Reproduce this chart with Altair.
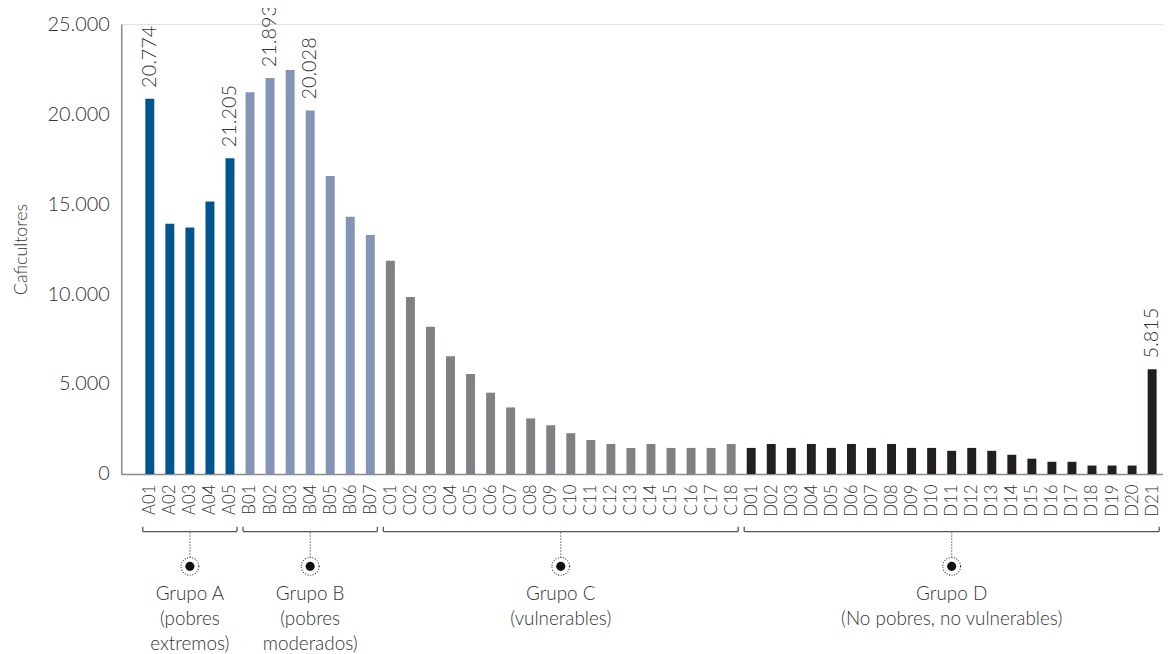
import altair as alt
import pandas as pd

# ---------------- data ----------------
categories = (
    [f"A{i:02d}" for i in range(1, 6)]
    + [f"B{i:02d}" for i in range(1, 8)]
    + [f"C{i:02d}" for i in range(1, 19)]
    + [f"D{i:02d}" for i in range(1, 22)]
)
values_a = [20850, 13900, 13700, 15150, 17550]
values_b = [21210, 22000, 22450, 20200, 16560, 14300, 13280]
values_c = [11850, 9830, 8190, 6540, 5560, 4520, 3700, 3090, 2710, 2270,
            1890, 1670, 1450, 1670, 1450, 1450, 1450, 1670]
values_d = [1450, 1670, 1450, 1670, 1450, 1670, 1450, 1670, 1450, 1450,
            1290, 1450, 1290, 1070, 850, 680, 680, 470, 470, 470, 5815]
values = values_a + values_b + values_c + values_d
groups = ["A"] * 5 + ["B"] * 7 + ["C"] * 18 + ["D"] * 21

label_cats = ["A01", "A05", "B02", "B04", "D21"]
label_texts = ["20.774", "21.205", "21.893", "20.028", "5.815"]

group_names = ["A", "B", "C", "D"]
group_first = ["A01", "B01", "C01", "D01"]
group_last = ["A05", "B07", "C18", "D21"]
group_texts = [
    "Grupo A\n(pobres\nextremos)",
    "Grupo B\n(pobres\nmoderados)",
    "Grupo C\n(vulnerables)",
    "Grupo D\n(No pobres, no vulnerables)",
]
group_colors = ["#00558C", "#8394B6", "#808184", "#231F20"]

y_ticks = [0, 5000, 10000, 15000, 20000, 25000]

# ---------------- tables ----------------
idx_of = {c: i for i, c in enumerate(categories)}
df = pd.DataFrame({"cat": categories, "idx": list(range(len(categories))),
                   "value": values, "group": groups})

df_lab = pd.DataFrame({
    "idx": [idx_of[c] for c in label_cats],
    "value": [values[idx_of[c]] for c in label_cats],
    "text": label_texts,
})

first_i = [idx_of[c] for c in group_first]
last_i = [idx_of[c] for c in group_last]
df_grp = pd.DataFrame({
    "group": group_names,
    "x0": [f - 0.35 for f in first_i],
    "x1": [l + 0.35 for l in last_i],
    "xc": [(f + l) / 2 for f, l in zip(first_i, last_i)],
    "text": group_texts,
})

FONT = "Lato"
W = 300
TXT = "#333333"
AX = "#8a8a8a"

label_array = "[" + ",".join(f"'{c}'" for c in categories) + "]"

xscale = alt.Scale(domain=[-1.178, 50.294], nice=False, zero=False)

x_axis = alt.Axis(values=list(range(len(categories))),
                  labelExpr=f"{label_array}[datum.value]",
                  labelAngle=-90, labelFontSize=17, labelColor=TXT,
                  labelFont=FONT, labelFontWeight=W, labelPadding=10,
                  ticks=False, grid=False, labelOverlap=False,
                  labelFlush=False, domainColor=AX, domainWidth=1.5,
                  title=None, labelBound=False)

bars = alt.Chart(df).mark_bar(size=9).encode(
    x=alt.X("idx:Q", scale=xscale, axis=x_axis),
    y=alt.Y("value:Q", scale=alt.Scale(domain=[0, 25000], nice=False),
            axis=alt.Axis(values=y_ticks,
                          labelExpr="replace(format(datum.value, ','), ',', '.')",
                          labelFontSize=20, labelColor=TXT, labelFont=FONT,
                          labelFontWeight=W, labelPadding=12, ticks=False,
                          grid=False, domainColor=AX, domainWidth=1.5,
                          title="Caficultores", titleFont=FONT,
                          titleFontSize=18, titleFontWeight=W,
                          titleColor=TXT, titlePadding=17)),
    color=alt.Color("group:N", scale=alt.Scale(domain=group_names, range=group_colors),
                    legend=None),
)

labels = alt.Chart(df_lab).mark_text(
    angle=270, align="left", baseline="middle", dx=11, fontSize=20,
    font=FONT, fontWeight=W, color=TXT,
).encode(x=alt.X("idx:Q", axis=x_axis), y=alt.Y("value:Q"), text="text:N")

rule_style = dict(color="#555", strokeWidth=1.3)
bracket = alt.Chart(df_grp).mark_rule(**rule_style).encode(
    x=alt.X("x0:Q", axis=x_axis), x2="x1:Q", y=alt.value(511))
tick_l = alt.Chart(df_grp).mark_rule(**rule_style).encode(
    x=alt.X("x0:Q", axis=x_axis), y=alt.value(506), y2=alt.value(511))
tick_r = alt.Chart(df_grp).mark_rule(**rule_style).encode(
    x=alt.X("x1:Q", axis=x_axis), y=alt.value(506), y2=alt.value(511))
dots_line = alt.Chart(df_grp).mark_rule(color="#333", strokeWidth=1.2,
                                        strokeDash=[1, 2]).encode(
    x=alt.X("xc:Q", axis=x_axis), y=alt.value(512), y2=alt.value(537))
ring = alt.Chart(df_grp).mark_point(shape="circle", size=320, filled=False,
                                    stroke="#333", strokeWidth=1.1,
                                    strokeDash=[1, 1.6], opacity=1).encode(
    x=alt.X("xc:Q", axis=x_axis), y=alt.value(546))
dot = alt.Chart(df_grp).mark_point(shape="circle", size=85, filled=True,
                                   color="#111", opacity=1).encode(
    x=alt.X("xc:Q", axis=x_axis), y=alt.value(546))
gtext = alt.Chart(df_grp).mark_text(
    lineBreak="\n", lineHeight=25, fontSize=19, font=FONT, fontWeight=W,
    color=TXT, align="center", baseline="top",
).encode(x=alt.X("xc:Q", axis=x_axis), y=alt.value(565), text="text:N")

chart = alt.layer(bars, labels, bracket, tick_l, tick_r, dots_line, ring, dot,
                  gtext).properties(
    width=1049, height=453,
    autosize=alt.AutoSizeParams(type="none"),
    padding={"left": 114, "top": 14, "right": 0, "bottom": 179},
).configure_view(stroke=None).configure_axisX(labelOverlap=False).configure(
    background="white")

chart.save("out.html", embed_options={"renderer": "svg", "actions": False})
